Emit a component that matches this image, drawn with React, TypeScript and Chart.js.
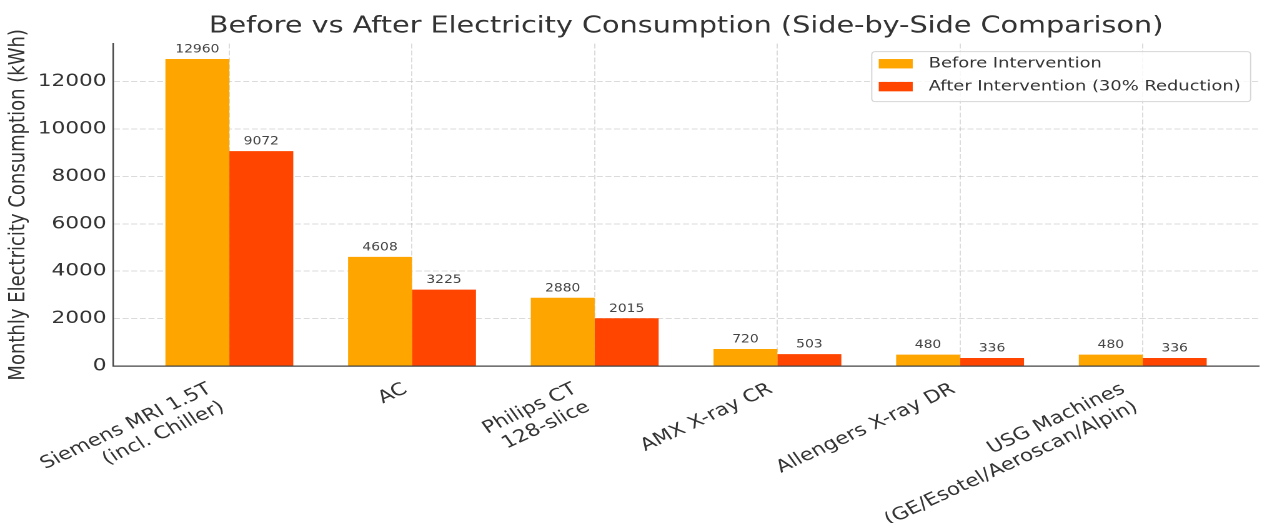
import React, { useEffect, useRef } from 'react';
import { Chart, registerables } from 'chart.js';

Chart.register(...registerables);

// ---------- data ----------
const CATEGORIES: (string | string[])[] = [
  ['Siemens MRI 1.5T', '(incl. Chiller)'],
  'AC',
  ['Philips CT', '128-slice'],
  'AMX X-ray CR',
  'Allengers X-ray DR',
  ['USG Machines', '(GE/Esotel/Aeroscan/Alpin)'],
];
const BEFORE = [12960, 4608, 2880, 720, 480, 480];
const AFTER = [9072, 3225, 2015, 503, 336, 336];
const SERIES_LABELS = ['Before Intervention', 'After Intervention (30% Reduction)'];
const Y_TICKS = [0, 2000, 4000, 6000, 8000, 10000, 12000];
const Y_MAX = 13608;
const X_MIN = -0.635;
const X_MAX = 5.635;
const TITLE = 'Before vs After Electricity Consumption (Side-by-Side Comparison)';
const Y_TITLE = 'Monthly Electricity Consumption (kWh)';

// ---------- styles ----------
const FONT = '"DejaVu Sans", sans-serif';
const COLORS = ['#FFA500', '#FF4500'];
const TEXT = '#333333';
const GRID = 'rgba(176,176,176,0.45)';
const SPINE = '#444444';
const LOGICAL_W = 1010;
const H = 523;
const CSS_W = 1262;
const TICK_FONT = 17.3;
const LEG_FONT = 14.3;
const VAL_FONT = 11.1;
const ROT = 30;

const valueLabels = {
  id: 'valueLabels',
  afterDatasetsDraw(chart: any) {
    const ctx = chart.ctx;
    ctx.save();
    ctx.font = `${VAL_FONT}px ${FONT}`;
    ctx.fillStyle = '#444444';
    ctx.textAlign = 'center';
    ctx.textBaseline = 'alphabetic';
    chart.data.datasets.forEach((ds: any, di: number) => {
      const meta = chart.getDatasetMeta(di);
      meta.data.forEach((el: any, i: number) => {
        const v = ds.data[i].y;
        ctx.fillText(String(v), el.x, el.y - 6.5);
      });
    });
    ctx.restore();
  },
};

const xLabels = {
  id: 'xLabels',
  afterDraw(chart: any) {
    const ctx = chart.ctx;
    const xs = chart.scales.x;
    const th = (ROT * Math.PI) / 180;
    const c = Math.cos(th);
    const s = Math.sin(th);
    ctx.save();
    ctx.font = `${TICK_FONT}px ${FONT}`;
    ctx.fillStyle = TEXT;
    CATEGORIES.forEach((lab, i) => {
      const lines = Array.isArray(lab) ? lab : [lab];
      const w = Math.max(...lines.map((l) => ctx.measureText(l).width));
      const lh = TICK_FONT * 1.2;
      const h = lines.length * lh;
      const tx = xs.getPixelForValue(i);
      const ox = tx - (w * c + h * s);
      const oy = xs.top + 13 + w * s;
      ctx.save();
      ctx.translate(ox, oy);
      ctx.rotate(-th);
      ctx.textAlign = 'right';
      ctx.textBaseline = 'middle';
      lines.forEach((l, j) => ctx.fillText(l, w, j * lh + lh / 2));
      ctx.restore();
    });
    ctx.restore();
  },
};

const boxLegend = {
  id: 'boxLegend',
  afterDraw(chart: any) {
    const { ctx, chartArea } = chart;
    ctx.save();
    ctx.font = `${LEG_FONT}px ${FONT}`;
    const textW = Math.max(...SERIES_LABELS.map((t) => ctx.measureText(t).width));
    const pad = 5.6;
    const handleW = 27.2;
    const handleH = 9.4;
    const gap = 12.8;
    const rowH = 22.9;
    const boxW = pad + handleW + gap + textW + 8;
    const right = chartArea.right - 6.5;
    const left = right - boxW;
    const top = chartArea.top + 8;
    const boxH = 50;
    const r = 3;
    ctx.beginPath();
    ctx.moveTo(left + r, top);
    ctx.lineTo(left + boxW - r, top);
    ctx.quadraticCurveTo(left + boxW, top, left + boxW, top + r);
    ctx.lineTo(left + boxW, top + boxH - r);
    ctx.quadraticCurveTo(left + boxW, top + boxH, left + boxW - r, top + boxH);
    ctx.lineTo(left + r, top + boxH);
    ctx.quadraticCurveTo(left, top + boxH, left, top + boxH - r);
    ctx.lineTo(left, top + r);
    ctx.quadraticCurveTo(left, top, left + r, top);
    ctx.closePath();
    ctx.fillStyle = 'rgba(255,255,255,0.8)';
    ctx.fill();
    ctx.strokeStyle = '#d6d6d6';
    ctx.lineWidth = 1;
    ctx.stroke();
    SERIES_LABELS.forEach((t, j) => {
      const cy = top + 12.1 + j * rowH;
      ctx.fillStyle = COLORS[j];
      ctx.fillRect(left + pad, cy - handleH / 2, handleW, handleH);
      ctx.fillStyle = TEXT;
      ctx.textAlign = 'left';
      ctx.textBaseline = 'middle';
      ctx.fillText(t, left + pad + handleW + gap, cy);
    });
    ctx.restore();
  },
};

export default function App() {
  const ref = useRef<HTMLCanvasElement>(null);
  useEffect(() => {
    const canvas = ref.current;
    if (!canvas) return;
    const chart = new Chart(canvas, {
      type: 'bar',
      data: {
        datasets: [
          {
            label: SERIES_LABELS[0],
            data: BEFORE.map((v, i) => ({ x: i, y: v })),
            backgroundColor: COLORS[0],
            borderWidth: 0,
          },
          {
            label: SERIES_LABELS[1],
            data: AFTER.map((v, i) => ({ x: i, y: v })),
            backgroundColor: COLORS[1],
            borderWidth: 0,
          },
        ],
      },
      options: {
        responsive: false,
        animation: false,
        devicePixelRatio: 2,
        layout: { padding: { left: 0, right: 2.6, top: 0, bottom: 0 } },
        datasets: { bar: { categoryPercentage: 0.7, barPercentage: 1.0 } } as any,
        plugins: {
          legend: { display: false },
          tooltip: { enabled: false },
          title: {
            display: true,
            text: TITLE,
            fullSize: false,
            color: TEXT,
            font: { family: FONT, size: 22.95, weight: 'normal' as any },
            padding: { top: 12.8, bottom: 3.3 },
          },
        },
        scales: {
          x: {
            type: 'linear',
            min: X_MIN,
            max: X_MAX,
            offset: false,
            afterBuildTicks: (s: any) => {
              s.ticks = CATEGORIES.map((_, i) => ({ value: i }));
            },
            afterFit: (s: any) => {
              s.height = 157;
            },
            ticks: { display: false },
            grid: { offset: false, color: GRID, lineWidth: 1, drawTicks: false },
            border: { display: true, color: SPINE, width: 1.2, dash: [4.8, 2.1] },
            z: 1,
          } as any,
          y: {
            type: 'linear',
            min: 0,
            max: Y_MAX,
            afterBuildTicks: (s: any) => {
              s.ticks = Y_TICKS.map((v) => ({ value: v }));
            },
            afterFit: (s: any) => {
              s.width = 90.7;
            },
            ticks: {
              font: { family: FONT, size: TICK_FONT },
              color: TEXT,
              padding: 5.5,
              callback: (v: any) => String(v),
            },
            grid: { color: GRID, lineWidth: 1, drawTicks: false },
            border: { display: true, color: SPINE, width: 1.2, dash: [4.8, 2.1] },
            title: {
              display: true,
              text: Y_TITLE,
              color: TEXT,
              font: { family: FONT, size: 18 },
              padding: { top: 3.8, bottom: 0 },
            },
            z: 1,
          } as any,
        },
      },
      plugins: [valueLabels, xLabels, boxLegend],
    } as any);
    return () => chart.destroy();
  }, []);
  return (
    <div
      style={{
        position: 'fixed',
        left: 0,
        top: 0,
        width: CSS_W,
        height: H,
        background: '#ffffff',
        overflow: 'hidden',
      }}
    >
      <canvas
        ref={ref}
        width={LOGICAL_W}
        height={H}
        style={{ width: `${CSS_W}px`, height: `${H}px`, display: 'block' }}
      />
    </div>
  );
}
